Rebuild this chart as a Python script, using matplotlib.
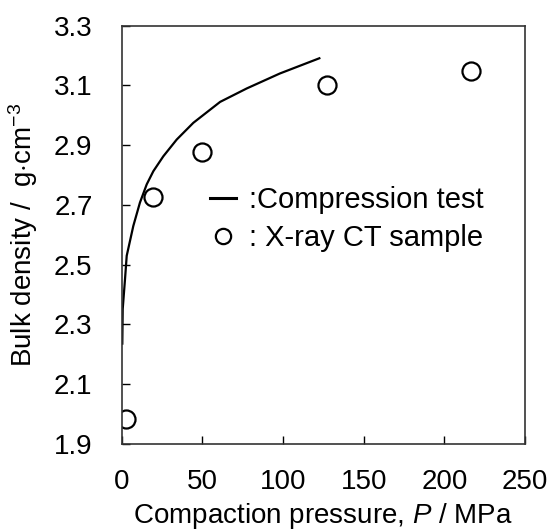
import matplotlib
matplotlib.use("Agg")
import matplotlib.pyplot as plt
from matplotlib.lines import Line2D

plt.rcParams['font.family'] = ['Liberation Sans', 'DejaVu Sans']
plt.rcParams['mathtext.fontset'] = 'custom'
plt.rcParams['mathtext.rm'] = 'Liberation Sans'
plt.rcParams['mathtext.it'] = 'Liberation Sans:italic'

# compression test curve
comp_p = [0.37, 0.62, 2.05, 3.1, 7.2, 11.3, 15.5, 19.6, 25.8, 34.1, 44.4, 61.0, 77.5, 98.0, 122.5]
comp_rho = [2.236, 2.352, 2.452, 2.53, 2.63, 2.708, 2.769, 2.813, 2.863, 2.919, 2.975, 3.045,
            3.090, 3.140, 3.191]

# X-ray CT samples
ct_p = [2.7, 19.2, 49.6, 127.5, 216.6]
ct_rho = [1.983, 2.725, 2.878, 3.100, 3.147]

xticks = [0, 50, 100, 150, 200, 250]
yticks = [1.9, 2.1, 2.3, 2.5, 2.7, 2.9, 3.1, 3.3]

fig = plt.figure(figsize=(5.54, 5.30), dpi=100)
ax = fig.add_axes([0.2197, 0.1623, 0.7280, 0.7892])

ax.plot(comp_p, comp_rho, color='black', lw=1.6)
ax.plot(ct_p, ct_rho, ls='none', marker='o', ms=13, mfc='white', mec='black', mew=1.6)

ax.set_xlim(0, 250)
ax.set_ylim(1.9, 3.3)
ax.set_xticks(xticks)
ax.set_yticks(yticks)
ax.set_yticklabels([f'{v:.1f}' for v in yticks])
ax.tick_params(direction='in', length=6, width=1.0, labelsize=20, colors='black')
ax.tick_params(axis='y', pad=21)
ax.tick_params(axis='x', pad=18)
for s in ax.spines.values():
    s.set_linewidth(1.2)
    s.set_color('#333333')

ax.set_xlabel('Compaction pressure, $P$ / MPa', fontsize=20, labelpad=4)
ax.set_ylabel('Bulk density /  g$\\cdot$cm$^{-3}$', fontsize=20, labelpad=10)

handles = [Line2D([], [], color='black', lw=2.2),
           Line2D([], [], ls='none', marker='o', ms=11, mfc='white', mec='black', mew=1.6)]
ax.legend(handles, [':Compression test', ': X-ray CT sample'], loc='upper left',
          bbox_to_anchor=(0.183, 0.652), frameon=False, fontsize=21,
          handlelength=0.9, handletextpad=0.45, labelspacing=0.35, borderpad=0)

fig.savefig('out.png', dpi=100)
